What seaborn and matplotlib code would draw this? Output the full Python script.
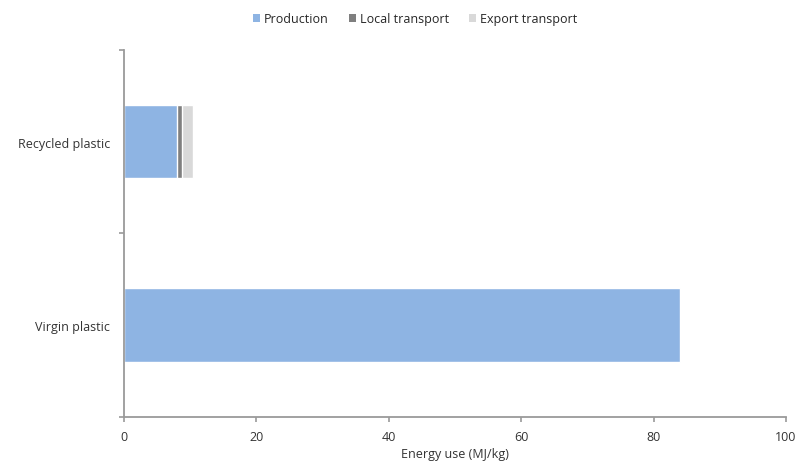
import pandas as pd
import matplotlib.pyplot as plt
import seaborn as sns
from matplotlib.patches import Patch

# values (MJ/kg)
materials = ["Recycled plastic", "Virgin plastic"]
production = [8.1, 84.0]
local_transport = [0.7, 0.0]
export_transport = [1.6, 0.0]

series_names = ["Production", "Local transport", "Export transport"]
colors = ["#8EB4E3", "#7F7F7F", "#D9D9D9"]

df = pd.DataFrame({
    "material": materials,
    "Production": production,
    "Local transport": local_transport,
    "Export transport": export_transport,
})
# cumulative sums so the bars can be layered to look stacked
df["cum_local"] = df["Production"] + df["Local transport"]
df["cum_export"] = df["cum_local"] + df["Export transport"]

sns.set_style("white")
plt.rcParams["font.family"] = ["Open Sans", "DejaVu Sans"]

fig = plt.figure(figsize=(7.98, 4.64), dpi=100)
ax = fig.add_axes([0.155, 0.100, 0.830, 0.790])

for col, c in zip(["cum_export", "cum_local", "Production"], colors[::-1]):
    sns.barplot(data=df, x=col, y="material", order=materials, orient="h",
                color=c, width=0.4, saturation=1, ax=ax)

ax.set_xlim(0, 100)
ax.set_ylim(1.5, -0.5)
ax.set_xticks([0, 20, 40, 60, 80, 100])
ax.set_xlabel("Energy use (MJ/kg)", fontsize=9, labelpad=3, color="#333333")
ax.set_ylabel("")

# category labels without tick marks, small ticks on the boundaries
ax.set_yticks([0, 1])
ax.set_yticklabels(materials)
ax.set_yticks([-0.5, 0.5, 1.5], minor=True)
ax.tick_params(axis="y", which="major", left=False, length=0, labelsize=9, pad=10, colors="#333333")
ax.tick_params(axis="y", which="minor", left=True, length=3.5, width=1.2, color="#9a9a9a")
ax.tick_params(axis="x", bottom=True, length=3.5, width=1.2, color="#9a9a9a",
               labelsize=9, labelcolor="#333333", pad=6)

for s in ["top", "right"]:
    ax.spines[s].set_visible(False)
for s in ["left", "bottom"]:
    ax.spines[s].set_color("#9a9a9a")
    ax.spines[s].set_linewidth(1.3)

handles = [Patch(facecolor=c, edgecolor="none") for c in colors]
fig.legend(handles, series_names, loc="center", bbox_to_anchor=(0.52, 0.958), ncol=3,
           frameon=False, fontsize=9, handlelength=0.6, handleheight=0.6,
           handletextpad=0.3, columnspacing=1.6)

plt.savefig("out.png", dpi=100)
